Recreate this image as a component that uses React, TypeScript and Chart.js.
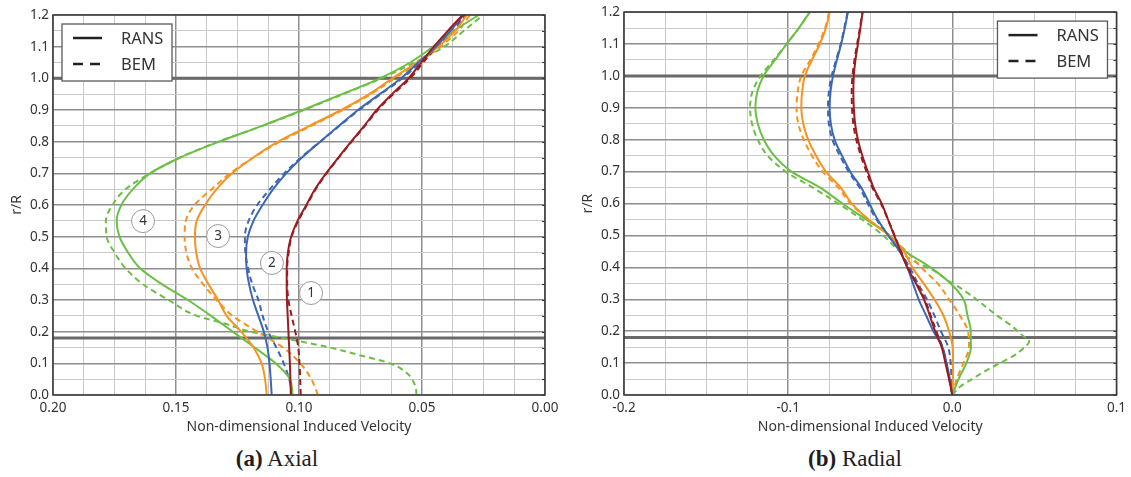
import React, { useEffect, useRef } from 'react';
import { Chart, registerables } from 'chart.js';

Chart.register(...registerables);

// ---------- data ----------
// radial stations r/R
const rStd = [0, 0.05, 0.1, 0.15, 0.2, 0.25, 0.3, 0.35, 0.4, 0.45, 0.5, 0.55, 0.6, 0.65, 0.7, 0.75, 0.8, 0.85, 0.9, 0.95, 1.0, 1.05, 1.1, 1.15, 1.2];

// (a) Axial induced velocity
const axialRans1 = [0.1033, 0.1035, 0.1037, 0.104, 0.1043, 0.1046, 0.1049, 0.105, 0.105, 0.1045, 0.1032, 0.1006, 0.097, 0.0935, 0.089, 0.084, 0.0788, 0.0735, 0.0684, 0.0622, 0.0555, 0.0503, 0.0452, 0.0395, 0.0335];
const axialBem1 = [0.0993, 0.0995, 0.0998, 0.1003, 0.1015, 0.103, 0.1043, 0.1048, 0.1048, 0.1042, 0.103, 0.1003, 0.0968, 0.0932, 0.0888, 0.0838, 0.0786, 0.0732, 0.068, 0.0617, 0.0548, 0.0495, 0.0443, 0.0385, 0.0325];
const axialRans2 = [0.1111, 0.1115, 0.112, 0.1128, 0.1143, 0.1165, 0.1187, 0.1203, 0.1213, 0.1215, 0.1208, 0.1185, 0.1148, 0.1105, 0.1052, 0.0988, 0.0914, 0.0838, 0.076, 0.0672, 0.0585, 0.0515, 0.0443, 0.0385, 0.0332];
const axialBem2 = [0.1027, 0.104, 0.1062, 0.1092, 0.1125, 0.1148, 0.1165, 0.119, 0.1207, 0.1218, 0.122, 0.1205, 0.117, 0.1118, 0.106, 0.0992, 0.0914, 0.0835, 0.0755, 0.0668, 0.058, 0.0508, 0.0436, 0.0372, 0.0322];
const axialRans3 = [0.1131, 0.1138, 0.1152, 0.1185, 0.1235, 0.1294, 0.1329, 0.1368, 0.1402, 0.1418, 0.1423, 0.1416, 0.1382, 0.1335, 0.1272, 0.1186, 0.1085, 0.0958, 0.0828, 0.0715, 0.062, 0.0522, 0.0435, 0.0365, 0.0318];
const axialBem3 = [0.0923, 0.095, 0.0995, 0.1065, 0.117, 0.127, 0.1335, 0.139, 0.1435, 0.1458, 0.1465, 0.146, 0.1425, 0.1355, 0.128, 0.1185, 0.1078, 0.095, 0.0822, 0.0708, 0.0612, 0.0512, 0.0425, 0.0352, 0.0305];
const axialRans4 = [0.1026, 0.1037, 0.1095, 0.118, 0.127, 0.1358, 0.1452, 0.1558, 0.1646, 0.1695, 0.173, 0.1741, 0.1722, 0.1675, 0.1605, 0.1482, 0.1325, 0.115, 0.0985, 0.0825, 0.0671, 0.0548, 0.0455, 0.037, 0.027];
const rAxialBem4 = [0, 0.03, 0.07, 0.1, 0.125, 0.15, 0.17, 0.185, 0.2, 0.225, 0.25, 0.3, 0.35, 0.4, 0.45, 0.5, 0.55, 0.6, 0.65, 0.7, 0.75, 0.8, 0.85, 0.9, 0.95, 1.0, 1.05, 1.1, 1.15, 1.2];
const axialBem4 = [0.0522, 0.0528, 0.0563, 0.063, 0.075, 0.0875, 0.1, 0.11, 0.12, 0.13, 0.1415, 0.153, 0.1635, 0.1705, 0.175, 0.1782, 0.1785, 0.1758, 0.1705, 0.1606, 0.1484, 0.1327, 0.1148, 0.098, 0.082, 0.0665, 0.053, 0.041, 0.033, 0.0252];

// (b) Radial induced velocity
const radialRans1 = [0, -0.002, -0.0042, -0.0065, -0.0105, -0.0138, -0.0173, -0.0222, -0.0274, -0.0315, -0.0354, -0.0392, -0.043, -0.048, -0.0515, -0.0548, -0.0575, -0.0592, -0.06, -0.0603, -0.06, -0.059, -0.0575, -0.056, -0.0546];
const radialBem1 = [0, -0.0018, -0.0038, -0.006, -0.0098, -0.0132, -0.0168, -0.0218, -0.027, -0.0312, -0.0352, -0.0392, -0.0435, -0.0487, -0.0523, -0.0557, -0.0585, -0.0603, -0.0611, -0.0613, -0.0608, -0.0596, -0.058, -0.0563, -0.0548];
const radialRans2 = [0, -0.0015, -0.0035, -0.006, -0.0115, -0.016, -0.0205, -0.024, -0.0274, -0.032, -0.039, -0.0455, -0.0505, -0.0555, -0.0622, -0.0672, -0.0717, -0.074, -0.0747, -0.0742, -0.0727, -0.0703, -0.0677, -0.0655, -0.0636];
const radialBem2 = [0, -0.0005, -0.001, -0.0025, -0.007, -0.011, -0.0155, -0.021, -0.026, -0.032, -0.039, -0.0462, -0.0515, -0.0565, -0.0632, -0.0685, -0.073, -0.0752, -0.0757, -0.0752, -0.0735, -0.0708, -0.068, -0.0658, -0.0638];
const radialRans3 = [0, 0.0003, 0.0004, 0.0002, -0.002, -0.0055, -0.011, -0.0175, -0.0244, -0.0295, -0.0385, -0.051, -0.0612, -0.068, -0.077, -0.083, -0.0878, -0.0908, -0.092, -0.0915, -0.0898, -0.0855, -0.0807, -0.077, -0.0747];
const radialBem3 = [0, 0.0027, 0.0067, 0.0102, 0.0095, 0.0045, -0.002, -0.009, -0.019, -0.028, -0.0385, -0.051, -0.062, -0.0695, -0.079, -0.0855, -0.0905, -0.0938, -0.0949, -0.0942, -0.092, -0.0865, -0.0815, -0.0775, -0.075];
const radialRans4 = [0, 0.0038, 0.0085, 0.0113, 0.0112, 0.0092, 0.0068, -0.0012, -0.0133, -0.0285, -0.038, -0.0525, -0.067, -0.0805, -0.098, -0.1085, -0.1148, -0.1185, -0.12, -0.1188, -0.115, -0.108, -0.1009, -0.0935, -0.0868];
const rRadialBem4 = [0, 0.025, 0.05, 0.075, 0.1, 0.125, 0.15, 0.167, 0.19, 0.215, 0.25, 0.3, 0.33, 0.36, 0.39, 0.42, 0.45, 0.5, 0.55, 0.6, 0.65, 0.7, 0.75, 0.8, 0.85, 0.9, 0.95, 1.0, 1.05, 1.1, 1.15, 1.2];
const radialBem4 = [0, 0.0045, 0.012, 0.02, 0.029, 0.038, 0.044, 0.0468, 0.042, 0.0365, 0.027, 0.0145, 0.0065, -0.003, -0.0112, -0.0235, -0.032, -0.042, -0.055, -0.0695, -0.085, -0.1015, -0.1125, -0.1185, -0.122, -0.1232, -0.1218, -0.1168, -0.1088, -0.101, -0.0935, -0.0868];

// hub and tip reference lines (r/R)
const refLinesR = [0.18, 1.0];

// case labels on the axial plot
const caseLabels = ['1', '2', '3', '4'];
const caseLabelV = [0.0951, 0.111, 0.1329, 0.1634];
const caseLabelR = [0.322, 0.417, 0.502, 0.549];

const legendLabels = ['RANS', 'BEM'];
const caseColors = ['#9b1c20', '#3b67b4', '#f7931e', '#6cbf46'];

const xTitle = 'Non-dimensional Induced Velocity';
const yTitle = 'r/R';

// ---------- helpers ----------
const FONT = '"Noto Sans", "DejaVu Sans", sans-serif';

type Series = { x: number[]; r: number[]; color: string; dashed: boolean };

const axialSeries: Series[] = [
  { x: axialRans1, r: rStd, color: caseColors[0], dashed: false },
  { x: axialRans2, r: rStd, color: caseColors[1], dashed: false },
  { x: axialRans3, r: rStd, color: caseColors[2], dashed: false },
  { x: axialRans4, r: rStd, color: caseColors[3], dashed: false },
  { x: axialBem1, r: rStd, color: caseColors[0], dashed: true },
  { x: axialBem2, r: rStd, color: caseColors[1], dashed: true },
  { x: axialBem3, r: rStd, color: caseColors[2], dashed: true },
  { x: axialBem4, r: rAxialBem4, color: caseColors[3], dashed: true },
];

const radialSeries: Series[] = [
  { x: radialRans1, r: rStd, color: caseColors[0], dashed: false },
  { x: radialRans2, r: rStd, color: caseColors[1], dashed: false },
  { x: radialRans3, r: rStd, color: caseColors[2], dashed: false },
  { x: radialRans4, r: rStd, color: caseColors[3], dashed: false },
  { x: radialBem1, r: rStd, color: caseColors[0], dashed: true },
  { x: radialBem2, r: rStd, color: caseColors[1], dashed: true },
  { x: radialBem3, r: rStd, color: caseColors[2], dashed: true },
  { x: radialBem4, r: rRadialBem4, color: caseColors[3], dashed: true },
];

function isMultiple(v: number, step: number) {
  const q = v / step;
  return Math.abs(q - Math.round(q)) < 1e-6;
}

function stepValues(min: number, max: number, step: number) {
  const n = Math.round((max - min) / step);
  const out: number[] = [];
  for (let i = 0; i <= n; i++) out.push(min + i * step);
  return out;
}

type PanelOpts = {
  series: Series[];
  xMin: number;
  xMax: number;
  reverse: boolean;
  xStep: number;
  xMajor: number;
  xDigits: number;
  yAxisWidth: number;
  padRight: number;
  padTop: number;
  canvasHeight: number;
  plotBottom: number;
  yTitlePad: number;
  legendSide: 'left' | 'right';
  showCaseLabels: boolean;
};

function makeConfig(p: PanelOpts): any {
  const datasets = p.series.map((s) => ({
    data: s.r.map((r, i) => ({ x: s.x[i], y: r })),
    borderColor: s.color,
    backgroundColor: s.color,
    borderWidth: 2,
    borderDash: s.dashed ? [6, 4] : [],
    showLine: true,
    pointRadius: 0,
    pointHoverRadius: 0,
    cubicInterpolationMode: 'monotone',
    fill: false,
  }));

  const xGrid = stepValues(p.xMin, p.xMax, p.xStep);
  const yGrid = stepValues(0, 1.2, 0.05);

  const overlay = {
    id: 'overlay',
    beforeDatasetsDraw(chart: any) {
      const { ctx, chartArea: a, scales } = chart;
      ctx.save();
      ctx.strokeStyle = '#6a6a6a';
      ctx.lineWidth = 3;
      for (const r of refLinesR) {
        const py = scales.y.getPixelForValue(r);
        ctx.beginPath();
        ctx.moveTo(a.left, py);
        ctx.lineTo(a.right, py);
        ctx.stroke();
      }
      ctx.restore();
    },
    afterDatasetsDraw(chart: any) {
      const { ctx, chartArea: a, scales } = chart;
      ctx.save();
      // frame
      ctx.strokeStyle = '#3a3a3a';
      ctx.lineWidth = 1.5;
      ctx.strokeRect(a.left, a.top, a.right - a.left, a.bottom - a.top);
      // small inward ticks on the right border
      ctx.lineWidth = 1;
      for (const r of yGrid) {
        const py = Math.round(scales.y.getPixelForValue(r)) + 0.5;
        ctx.beginPath();
        ctx.moveTo(a.right - 3, py);
        ctx.lineTo(a.right, py);
        ctx.stroke();
      }

      // case labels
      if (p.showCaseLabels) {
        caseLabels.forEach((lab, i) => {
          const cx = scales.x.getPixelForValue(caseLabelV[i]);
          const cy = scales.y.getPixelForValue(caseLabelR[i]);
          ctx.beginPath();
          ctx.arc(cx, cy, 11.5, 0, Math.PI * 2);
          ctx.fillStyle = '#ffffff';
          ctx.fill();
          ctx.strokeStyle = '#9a9a9a';
          ctx.lineWidth = 1;
          ctx.stroke();
          ctx.fillStyle = '#333333';
          ctx.font = `13.5px ${FONT}`;
          ctx.textAlign = 'center';
          ctx.textBaseline = 'middle';
          ctx.fillText(lab, cx, cy + 0.5);
        });
      }

      // legend
      const bw = 110;
      const bh = 57;
      const bx = p.legendSide === 'left' ? a.left + 9 : a.right - 9 - bw;
      const by = a.top + 9;
      ctx.fillStyle = '#ffffff';
      ctx.fillRect(bx, by, bw, bh);
      ctx.strokeStyle = '#5a5a5a';
      ctx.lineWidth = 1.3;
      ctx.strokeRect(bx, by, bw, bh);
      const rows = [by + 14, by + 40];
      rows.forEach((ry, i) => {
        ctx.beginPath();
        ctx.strokeStyle = '#222222';
        ctx.lineWidth = 2.5;
        ctx.setLineDash(i === 0 ? [] : [10, 7]);
        ctx.moveTo(bx + 11, ry);
        ctx.lineTo(bx + 40, ry);
        ctx.stroke();
        ctx.setLineDash([]);
        ctx.fillStyle = '#333333';
        ctx.font = `16.5px ${FONT}`;
        ctx.textAlign = 'left';
        ctx.textBaseline = 'middle';
        ctx.fillText(legendLabels[i], bx + 59, ry + 1);
      });
      ctx.restore();
    },
  };

  return {
    type: 'scatter',
    data: { datasets },
    options: {
      animation: false,
      responsive: false,
      maintainAspectRatio: false,
      indexAxis: 'y',
      events: [],
      layout: { padding: { left: 0, right: p.padRight, top: p.padTop, bottom: 0 } },
      plugins: { legend: { display: false }, tooltip: { enabled: false } },
      scales: {
        x: {
          type: 'linear',
          min: p.xMin,
          max: p.xMax,
          reverse: p.reverse,
          afterBuildTicks: (s: any) => {
            s.ticks = xGrid.map((v) => ({ value: v }));
          },
          afterFit: (s: any) => {
            s.height = p.canvasHeight - p.plotBottom;
          },
          grid: {
            drawTicks: false,
            color: (c: any) => (c.tick && isMultiple(c.tick.value, p.xMajor) ? '#8f8f8f' : '#c9c9c9'),
            lineWidth: (c: any) => (c.tick && isMultiple(c.tick.value, p.xMajor) ? 1.5 : 1),
          },
          border: { display: false },
          ticks: {
            autoSkip: false,
            maxRotation: 0,
            padding: 5,
            color: '#333333',
            font: { family: FONT, size: 13.5 },
            callback: (v: any) => (isMultiple(Number(v), p.xMajor) ? Number(v).toFixed(p.xDigits) : ''),
          },
          title: {
            display: true,
            text: xTitle,
            color: '#333333',
            font: { family: FONT, size: 14 },
            padding: { top: 0, bottom: 5 },
          },
        },
        y: {
          type: 'linear',
          min: 0,
          max: 1.2,
          afterBuildTicks: (s: any) => {
            s.ticks = yGrid.map((v) => ({ value: v }));
          },
          afterFit: (s: any) => {
            s.width = p.yAxisWidth;
          },
          grid: {
            drawTicks: false,
            color: (c: any) => (c.tick && isMultiple(c.tick.value, 0.1) ? '#8f8f8f' : '#c9c9c9'),
            lineWidth: (c: any) => (c.tick && isMultiple(c.tick.value, 0.1) ? 1.5 : 1),
          },
          border: { display: false },
          ticks: {
            autoSkip: false,
            padding: 4,
            color: '#333333',
            font: { family: FONT, size: 13.5 },
            callback: (v: any) => (isMultiple(Number(v), 0.1) ? Number(v).toFixed(1) : ''),
          },
          title: {
            display: true,
            text: yTitle,
            color: '#333333',
            font: { family: FONT, size: 14 },
            padding: { top: p.yTitlePad, bottom: 0 },
          },
        },
      },
    },
    plugins: [overlay],
  };
}

function Panel({ opts, left, width, height }: { opts: PanelOpts; left: number; width: number; height: number }) {
  const ref = useRef<HTMLCanvasElement>(null);
  useEffect(() => {
    const chart = new Chart(ref.current as HTMLCanvasElement, makeConfig(opts));
    return () => chart.destroy();
  }, []);
  return (
    <div style={{ position: 'absolute', left, top: 0, width, height }}>
      <canvas ref={ref} width={width} height={height} style={{ width, height, display: 'block' }} />
    </div>
  );
}

const axialOpts: PanelOpts = {
  series: axialSeries,
  xMin: 0,
  xMax: 0.2,
  reverse: true,
  xStep: 0.0125,
  xMajor: 0.05,
  xDigits: 2,
  yAxisWidth: 53,
  padRight: 20,
  padTop: 15,
  canvasHeight: 440,
  plotBottom: 395,
  yTitlePad: 8.6,
  legendSide: 'left',
  showCaseLabels: true,
};

const radialOpts: PanelOpts = {
  series: radialSeries,
  xMin: -0.2,
  xMax: 0.1,
  reverse: false,
  xStep: 0.025,
  xMajor: 0.1,
  xDigits: 1,
  yAxisWidth: 59,
  padRight: 11,
  padTop: 12,
  canvasHeight: 440,
  plotBottom: 395,
  yTitlePad: 14.6,
  legendSide: 'right',
  showCaseLabels: false,
};

const captionStyle: React.CSSProperties = {
  position: 'absolute',
  top: 446,
  textAlign: 'center',
  fontFamily: '"Liberation Serif", "DejaVu Serif", serif',
  fontSize: 23,
  color: '#1e1e1e',
  whiteSpace: 'nowrap',
};

export default function App() {
  return (
    <div style={{ position: 'absolute', left: 0, top: 0, width: 1131, height: 477, background: '#ffffff', overflow: 'hidden' }}>
      <Panel opts={axialOpts} left={0} width={565} height={440} />
      <Panel opts={radialOpts} left={565} width={566} height={440} />
      <div style={{ ...captionStyle, left: 0, width: 554 }}>
        <b>(a)</b> Axial
      </div>
      <div style={{ ...captionStyle, left: 700, width: 310 }}>
        <b>(b)</b> Radial
      </div>
    </div>
  );
}
